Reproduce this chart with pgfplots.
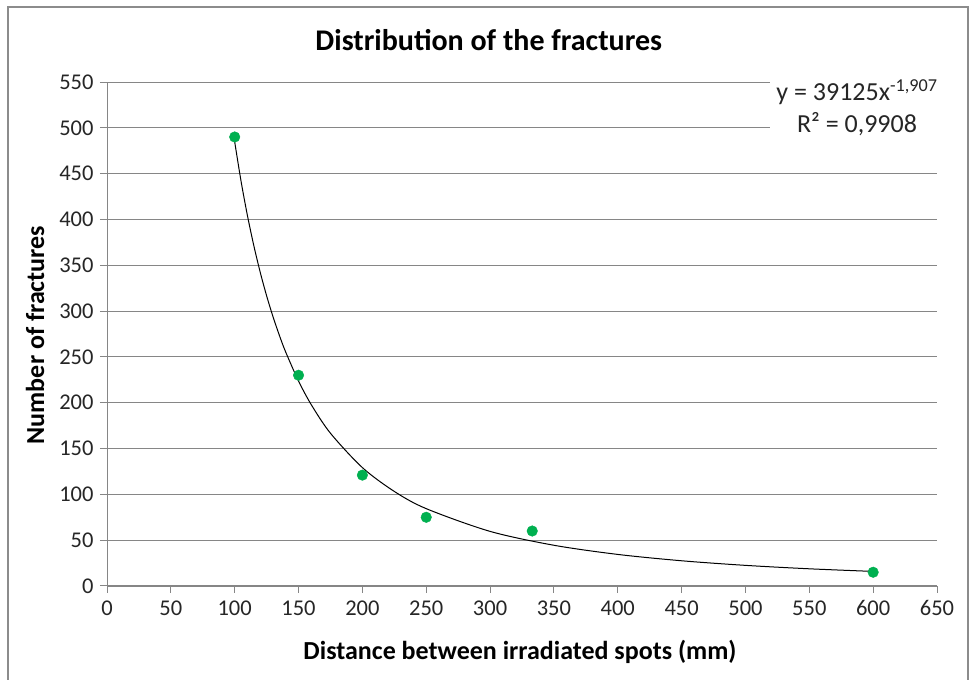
\documentclass[border=0pt]{standalone}
\usepackage{pgfplots}
\pgfplotsset{compat=1.18}
\usepackage{fontspec}
\setmainfont{Carlito}
\definecolor{ptgreen}{HTML}{00B050}
\definecolor{gridgray}{HTML}{868686}
\definecolor{framegray}{HTML}{8C8C8C}

\begin{document}
\begin{tikzpicture}[x=1pt,y=1pt]
\useasboundingbox (0,0) rectangle (970,680);
\fill[white] (0,0) rectangle (970,680);
\draw[framegray, line width=2pt] (8,-10) -- (8,673) -- (968,673) -- (968,-10);
\begin{axis}[
  at={(107pt,94pt)}, anchor=south west,
  scale only axis, width=830pt, height=504pt,
  xmin=0, xmax=650, ymin=0, ymax=550,
  xtick distance=50, ytick distance=50,
  axis x line*=bottom, axis y line*=left,
  axis line style={draw=gridgray, line width=1pt, -},
  ymajorgrids, grid style={draw=gridgray, line width=0.9pt},
  tick align=outside, major tick length=7pt,
  tick style={draw=gridgray, line width=1pt},
  /pgf/number format/assume math mode=true,
  /pgf/number format/1000 sep={},
  ticklabel style={font=\fontsize{22.5}{26}\selectfont, text=black!85},
  xticklabel style={yshift=-4pt},
  yticklabel style={xshift=-3pt},
  title={\textbf{Distribution of the fractures}},
  title style={font=\fontsize{30}{34}\selectfont, at={(axis description cs:0.460,1.071)}, anchor=center},
  xlabel={\textbf{Distance between irradiated spots (mm)}},
  ylabel={\textbf{Number of fractures}},
  label style={font=\fontsize{26}{30}\selectfont},
  xlabel style={at={(axis description cs:0.4976,-0.131)}, anchor=center},
  ylabel style={at={(axis description cs:-0.0867,0.498)}, anchor=center},
  clip=false,
]
% power-law trend line, y = 39125 (x/10)^-1.907
\addplot[black, line width=1pt, smooth, tension=0.5] coordinates {
  (100,484.7) (105,441.6) (110,404.1) (115,371.3) (120,342.3) (125,316.7)
  (130,293.9) (135,273.5) (140,255.1) (150,223.7) (160,197.8) (175,166.7)
  (200,129.2) (225,103.2) (250,84.4) (300,59.6) (350,44.45) (400,34.46)
  (450,27.53) (500,22.52) (550,18.77) (600,15.92)
};
% measured fracture counts
\addplot[only marks, mark=*, mark size=5.3pt, mark options={fill=ptgreen, draw=ptgreen}] coordinates {
  (100,490) (150,230) (200,121) (250,75) (333,60) (600,15)
};
\end{axis}
\fill[white] (770,538) rectangle (950,608);
\node[align=center, inner sep=0pt, font=\fontsize{26}{32}\selectfont, text=black!85]
  at (857,572) {y = 39125x\textsuperscript{-1,907}\\R² = 0,9908};
\end{tikzpicture}
\end{document}
